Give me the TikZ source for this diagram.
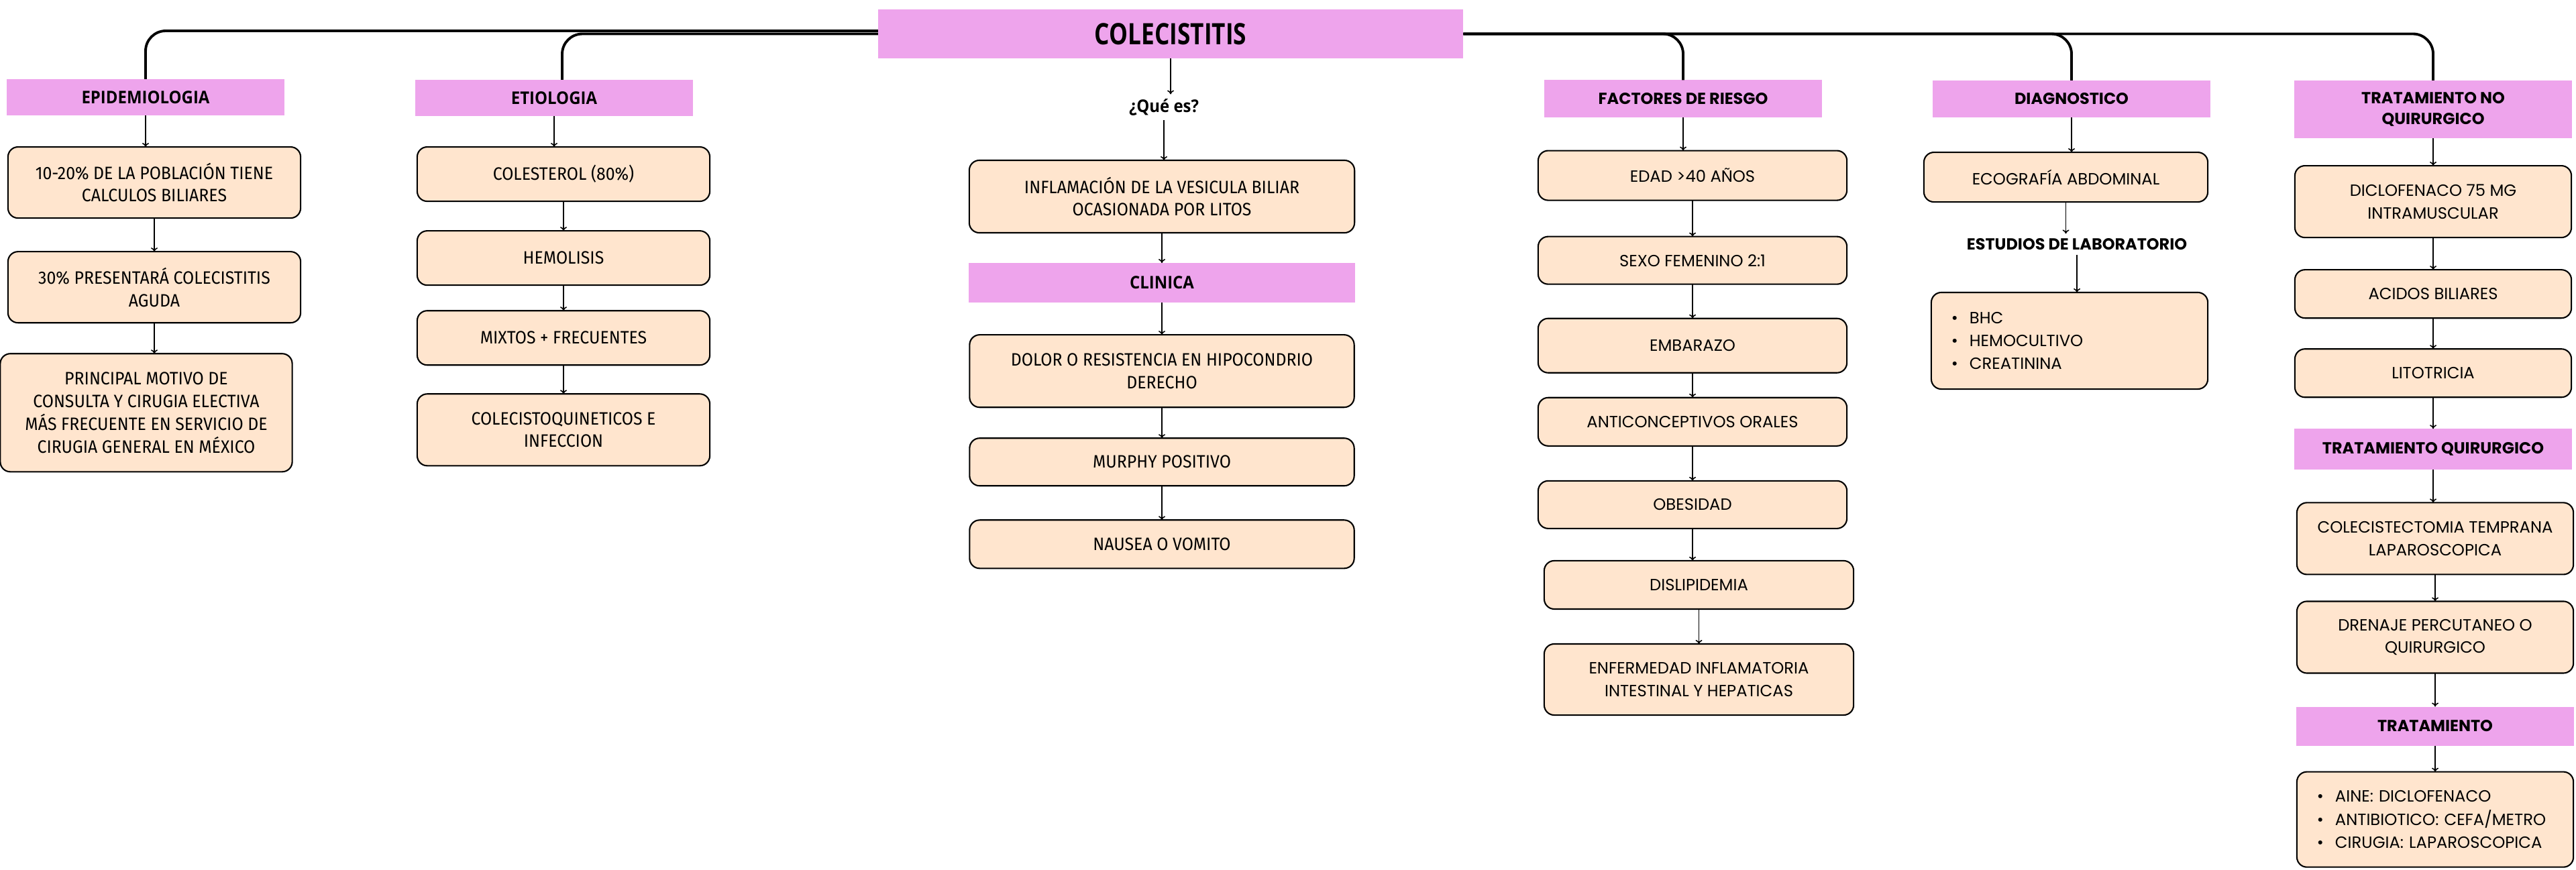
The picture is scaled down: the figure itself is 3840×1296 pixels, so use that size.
\documentclass[tikz,border=0pt]{standalone}
\usepackage{fontspec}
\setmainfont{Poppins}
\newfontfamily\boxfont[FakeStretch=0.93]{Fira Sans}
\newfontfamily\condfont[FakeStretch=0.92]{Open Sans}
\newfontfamily\titlefont[FakeStretch=0.8]{Open Sans}
\usetikzlibrary{positioning,arrows.meta}

\definecolor{headpink}{RGB}{238,164,236}
\definecolor{peach}{RGB}{255,229,206}

\begin{document}
\begin{tikzpicture}[
  x=0.01cm, y=-0.01cm,
  node distance=0.47cm,
  head/.style={fill=headpink, align=center, outer sep=0pt, minimum width=4.14cm, minimum height=0.54cm, inner sep=2pt, font=\fontsize{6.8pt}{8.8pt}\selectfont\bfseries},
  lhead/.style={head, font=\fontsize{7.4pt}{9pt}\condfont\bfseries},
  tag/.style={inner sep=2pt, outer sep=0pt, font=\fontsize{7.4pt}{9pt}\condfont\bfseries},
  rtag/.style={inner sep=2pt, outer sep=0pt, font=\fontsize{6.8pt}{9pt}\selectfont\bfseries},
  box/.style={draw, line width=0.6pt, fill=peach, rounded corners=0.15cm, align=center, outer sep=0pt, minimum width=4.12cm, minimum height=0.72cm, inner sep=2pt, font=\fontsize{6.9pt}{9.6pt}\selectfont},
  lbox/.style={box, minimum width=4.36cm, minimum height=0.81cm, font=\fontsize{7.6pt}{9.6pt}\boxfont},
  list/.style={box, align=left, text width=3.52cm, inner xsep=0.3cm, font=\fontsize{6.9pt}{9.8pt}\selectfont},
  arr/.style={-{To[length=0.6mm,width=1mm]}, line width=0.45pt},
  bus/.style={line width=1.1pt, rounded corners=0.3cm}]
  \useasboundingbox (0,0) rectangle (3840,1296);

  \node[fill=headpink, outer sep=0pt, minimum width=8.72cm, minimum height=0.73cm, font=\fontsize{12.5pt}{14pt}\titlefont\bfseries] (title) at (1745,50.5) {COLECISTITIS};

  \node[lhead] (epi) at (217,145) {EPIDEMIOLOGIA};
  \node[lbox, minimum height=1.06cm, below=0.47cm of epi, xshift=0.13cm] (epi1) {10-20\% DE LA POBLACIÓN TIENE\\CALCULOS BILIARES};
  \node[lbox, minimum height=1.06cm, below=0.5cm of epi1] (epi2) {30\% PRESENTARÁ COLECISTITIS\\AGUDA};
  \node[lbox, minimum width=4.35cm, minimum height=1.76cm, below=0.46cm of epi2, xshift=-0.12cm] (epi3) {PRINCIPAL MOTIVO DE\\CONSULTA Y CIRUGIA ELECTIVA\\MÁS FRECUENTE EN SERVICIO DE\\CIRUGIA GENERAL EN MÉXICO};

  \node[lhead] (eti) at (826,146) {ETIOLOGIA};
  \node[lbox, below=0.46cm of eti, xshift=0.14cm] (eti1) {COLESTEROL (80\%)};
  \node[lbox, below=0.44cm of eti1] (eti2) {HEMOLISIS};
  \node[lbox, below=0.38cm of eti2] (eti3) {MIXTOS + FRECUENTES};
  \node[lbox, minimum height=1.07cm, below=0.43cm of eti3] (eti4) {COLECISTOQUINETICOS E\\INFECCION};

  \node[tag] (que) at (1735,160) {¿Qué es?};
  \node[lbox, minimum width=5.74cm, minimum height=1.08cm] (inf) at (1732,293) {INFLAMACIÓN DE LA VESICULA BILIAR\\OCASIONADA POR LITOS};
  \node[lhead, minimum width=5.76cm, minimum height=0.59cm, below=0.45cm of inf] (clin) {CLINICA};
  \node[lbox, minimum width=5.73cm, minimum height=1.08cm, below=0.48cm of clin] (dol) {DOLOR O RESISTENCIA EN HIPOCONDRIO\\DERECHO};
  \node[lbox, minimum width=5.73cm, minimum height=0.71cm, below=0.46cm of dol] (mur) {MURPHY POSITIVO};
  \node[lbox, minimum width=5.73cm, minimum height=0.72cm, below=0.51cm of mur] (nau) {NAUSEA O VOMITO};

  \node[head, minimum height=0.55cm] (fac) at (2509,147) {FACTORES DE RIESGO};
  \node[box, minimum width=4.6cm, minimum height=0.74cm, below=0.5cm of fac, xshift=0.14cm] (f1) {EDAD >40 AÑOS};
  \node[box, minimum width=4.6cm, minimum height=0.71cm, below=0.54cm of f1] (f2) {SEXO FEMENINO 2:1};
  \node[box, minimum width=4.6cm, minimum height=0.81cm, below=0.51cm of f2] (f3) {EMBARAZO};
  \node[box, minimum width=4.6cm, minimum height=0.72cm, below=0.37cm of f3] (f4) {ANTICONCEPTIVOS ORALES};
  \node[box, minimum width=4.6cm, minimum height=0.71cm, below=0.52cm of f4] (f5) {OBESIDAD};
  \node[box, minimum width=4.61cm, minimum height=0.72cm, below=0.48cm of f5, xshift=0.095cm] (f6) {DISLIPIDEMIA};
  \node[box, minimum width=4.61cm, minimum height=1.06cm, below=0.52cm of f6] (f7) {ENFERMEDAD INFLAMATORIA\\INTESTINAL Y HEPATICAS};

  \node[head, minimum height=0.55cm] (diag) at (3088,147.5) {DIAGNOSTICO};
  \node[box, minimum width=4.23cm, minimum height=0.74cm, below=0.52cm of diag, xshift=-0.085cm] (eco) {ECOGRAFÍA ABDOMINAL};
  \node[rtag] (est) at (3096,364) {ESTUDIOS DE LABORATORIO};
  \node[list, minimum height=1.44cm] (lab) at (3085,508) {\makebox[0.27cm][l]{\textbullet}BHC\\\makebox[0.27cm][l]{\textbullet}HEMOCULTIVO\\\makebox[0.27cm][l]{\textbullet}CREATININA};

  \node[head, minimum height=0.86cm] (tnq) at (3627,163) {TRATAMIENTO NO\\QUIRURGICO};
  \node[box, minimum height=1.07cm, below=0.41cm of tnq] (t1) {DICLOFENACO 75 MG\\INTRAMUSCULAR};
  \node[box, below=0.48cm of t1] (t2) {ACIDOS BILIARES};
  \node[box, below=0.46cm of t2] (t3) {LITOTRICIA};
  \node[head, minimum height=0.61cm, below=0.47cm of t3] (tq) {TRATAMIENTO QUIRURGICO};
  \node[box, minimum height=1.07cm, below=0.49cm of tq, xshift=0.03cm] (t4) {COLECISTECTOMIA TEMPRANA\\LAPAROSCOPICA};
  \node[box, minimum height=1.07cm, below=0.40cm of t4] (t5) {DRENAJE PERCUTANEO O\\QUIRURGICO};
  \node[head, minimum height=0.58cm, below=0.50cm of t5] (tt) {TRATAMIENTO};
  \node[list, minimum height=1.42cm, below=0.39cm of tt] (tl) {\makebox[0.27cm][l]{\textbullet}AINE: DICLOFENACO\\\makebox[0.27cm][l]{\textbullet}ANTIBIOTICO: CEFA/METRO\\\makebox[0.27cm][l]{\textbullet}CIRUGIA: LAPAROSCOPICA};

  \draw[bus] ([yshift=0.045cm]title.west) -| (epi.north);
  \draw[bus] (title.west) -| ([xshift=0.12cm]eti.north);
  \draw[bus] (title.east) -| (fac.north);
  \draw[bus] (title.east) -| (diag.north);
  \draw[bus] (title.east) -| (tnq.north);

  \foreach \a/\b in {epi/epi1,epi1/epi2,epi2/epi3,eti/eti1,eti1/eti2,eti2/eti3,eti3/eti4,
    title/que,que/inf,inf/clin,clin/dol,dol/mur,mur/nau,
    fac/f1,f1/f2,f2/f3,f3/f4,f4/f5,f5/f6,f6/f7,diag/eco,eco/est,est/lab,
    tnq/t1,t1/t2,t2/t3,t3/tq,tq/t4,t4/t5,t5/tt,tt/tl}
    \draw[arr] (\a.south) -- (\a.south |- \b.north);
\end{tikzpicture}
\end{document}
